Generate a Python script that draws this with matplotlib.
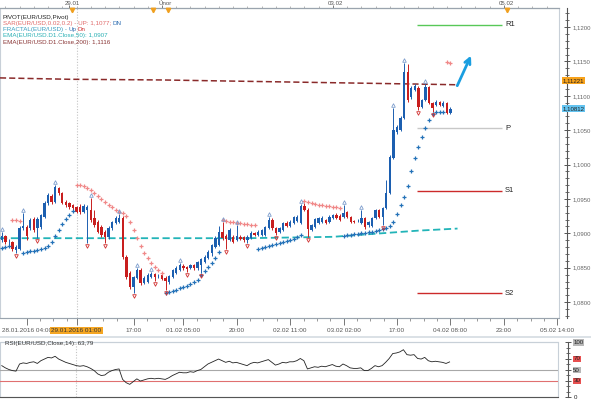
import matplotlib
matplotlib.use("Agg")
import matplotlib.pyplot as plt
from matplotlib.transforms import ScaledTranslation, blended_transform_factory
from matplotlib.ticker import FuncFormatter, FixedLocator, MultipleLocator, NullFormatter

plt.rcParams["font.family"] = ["Liberation Sans", "DejaVu Sans"]

# ---------------- data (EUR/USD H1) ----------------
opens = [1.0890,1.0896,1.0887,1.0887,1.0876,1.0877,1.0908,1.0909,1.0908,1.0921,
         1.0908,1.0909,1.0924,1.0944,1.0954,1.0946,1.0966,1.0959,1.0946,1.0944,
         1.0941,1.0938,1.0938,1.0931,1.0934,1.0934,1.0922,1.0917,1.0909,1.0902,
         1.0895,1.0908,1.0915,1.0917,1.0922,1.0866,1.0842,1.0822,1.0835,1.0847,
         1.0828,1.0829,1.0837,1.0841,1.0838,1.0839,1.0835,1.0829,1.0837,1.0842,
         1.0847,1.0853,1.0851,1.0850,1.0854,1.0850,1.0854,1.0858,1.0864,1.0871,
         1.0880,1.0883,1.0902,1.0896,1.0890,1.0895,1.0890,1.0895,1.0895,1.0890,
         1.0893,1.0901,1.0898,1.0898,1.0898,1.0908,1.0919,1.0908,1.0902,1.0905,
         1.0915,1.0911,1.0915,1.0918,1.0915,1.0940,1.0934,1.0905,1.0909,1.0915,
         1.0917,1.0919,1.0917,1.0922,1.0927,1.0925,1.0924,1.0931,1.0924,1.0918,
         1.0918,1.0915,1.0922,1.0912,1.0911,1.0922,1.0934,1.0924,1.0937,1.0959,
         1.1010,1.1047,1.1050,1.1068,1.1135,1.1098,1.1108,1.1111,1.1084,1.1094,
         1.1113,1.1089,1.1087,1.1091,1.1085,1.1089,1.1075]
highs = [1.0902,1.0898,1.0892,1.0889,1.0883,1.0911,1.0930,1.0912,1.0922,1.0924,
         1.0924,1.0928,1.0947,1.0959,1.0957,1.0970,1.0967,1.0960,1.0949,1.0946,
         1.0943,1.0940,1.0943,1.0943,1.0941,1.0951,1.0934,1.0919,1.0912,1.0905,
         1.0911,1.0918,1.0925,1.0928,1.0925,1.0869,1.0845,1.0838,1.0850,1.0850,
         1.0838,1.0842,1.0844,1.0842,1.0841,1.0842,1.0838,1.0839,1.0848,1.0853,
         1.0857,1.0855,1.0853,1.0855,1.0855,1.0860,1.0864,1.0869,1.0876,1.0885,
         1.0896,1.0911,1.0917,1.0899,1.0908,1.0898,1.0912,1.0898,1.0896,1.0898,
         1.0903,1.0902,1.0905,1.0906,1.0911,1.0924,1.0922,1.0909,1.0909,1.0917,
         1.0918,1.0919,1.0925,1.0927,1.0943,1.0944,1.0937,1.0914,1.0922,1.0924,
         1.0925,1.0921,1.0927,1.0928,1.0930,1.0928,1.0941,1.0933,1.0925,1.0919,
         1.0921,1.0934,1.0924,1.0918,1.0924,1.0935,1.0935,1.0938,1.0978,1.1014,
         1.1082,1.1058,1.1071,1.1148,1.1146,1.1114,1.1117,1.1114,1.1095,1.1117,
         1.1114,1.1091,1.1094,1.1092,1.1092,1.1091,1.1084]
lows = [1.0887,1.0885,1.0883,1.0874,1.0871,1.0876,1.0905,1.0890,1.0905,1.0902,
        1.0893,1.0906,1.0922,1.0941,1.0943,1.0944,1.0956,1.0943,1.0938,1.0935,
        1.0934,1.0930,1.0928,1.0930,1.0886,1.0917,1.0909,1.0901,1.0895,1.0886,
        1.0892,1.0905,1.0914,1.0915,1.0863,1.0834,1.0819,1.0813,1.0834,1.0825,
        1.0826,1.0828,1.0835,1.0831,1.0835,1.0832,1.0818,1.0826,1.0835,1.0841,
        1.0845,1.0847,1.0844,1.0848,1.0847,1.0847,1.0842,1.0857,1.0863,1.0867,
        1.0879,1.0882,1.0890,1.0877,1.0889,1.0886,1.0889,1.0890,1.0887,1.0886,
        1.0892,1.0896,1.0896,1.0896,1.0896,1.0906,1.0905,1.0898,1.0901,1.0903,
        1.0909,1.0909,1.0914,1.0917,1.0914,1.0933,1.0895,1.0903,1.0908,1.0914,
        1.0915,1.0914,1.0915,1.0921,1.0921,1.0918,1.0922,1.0922,1.0915,1.0915,
        1.0917,1.0914,1.0906,1.0909,1.0909,1.0921,1.0922,1.0912,1.0935,1.0957,
        1.1008,1.1044,1.1049,1.1066,1.1091,1.1095,1.1107,1.1079,1.1082,1.1092,
        1.1088,1.1076,1.1085,1.1085,1.1084,1.1074,1.1074]
closes = [1.0896,1.0887,1.0888,1.0877,1.0880,1.0908,1.0911,1.0896,1.0919,1.0905,
          1.0921,1.0927,1.0944,1.0956,1.0946,1.0967,1.0959,1.0944,1.0941,1.0938,
          1.0937,1.0931,1.0931,1.0940,1.0938,1.0919,1.0912,1.0902,1.0898,1.0895,
          1.0908,1.0917,1.0922,1.0922,1.0866,1.0837,1.0822,1.0837,1.0847,1.0828,
          1.0835,1.0839,1.0841,1.0837,1.0838,1.0834,1.0831,1.0838,1.0847,1.0850,
          1.0854,1.0850,1.0848,1.0854,1.0850,1.0858,1.0863,1.0866,1.0873,1.0883,
          1.0893,1.0902,1.0893,1.0892,1.0905,1.0887,1.0896,1.0892,1.0890,1.0895,
          1.0901,1.0898,1.0902,1.0905,1.0909,1.0919,1.0908,1.0901,1.0908,1.0915,
          1.0911,1.0917,1.0924,1.0924,1.0940,1.0934,1.0906,1.0912,1.0921,1.0922,
          1.0922,1.0915,1.0924,1.0927,1.0922,1.0919,1.0930,1.0924,1.0917,1.0917,
          1.0918,1.0922,1.0909,1.0917,1.0922,1.0934,1.0924,1.0937,1.0959,1.1011,
          1.1050,1.1055,1.1068,1.1135,1.1094,1.1111,1.1114,1.1084,1.1094,1.1113,
          1.1089,1.1082,1.1091,1.1087,1.1089,1.1075,1.1081]

sar_values = [1.0879,1.0880,1.0882,1.0919,1.0919,1.0918,1.0871,1.0873,1.0874,1.0874,
              1.0876,1.0877,1.0879,1.0882,1.0887,1.0896,1.0905,1.0914,1.0921,1.0927,
              1.0933,1.0970,1.0970,1.0969,1.0966,1.0963,1.0959,1.0954,1.0950,1.0946,
              1.0941,1.0938,1.0934,1.0931,1.0930,1.0925,1.0917,1.0905,1.0893,1.0882,
              1.0871,1.0864,1.0857,1.0851,1.0847,1.0842,1.0813,1.0815,1.0816,1.0818,
              1.0821,1.0822,1.0823,1.0826,1.0829,1.0832,1.0839,1.0845,1.0851,1.0857,
              1.0864,1.0873,1.0920,1.0918,1.0917,1.0917,1.0915,1.0915,1.0914,1.0914,
              1.0912,1.0912,1.0877,1.0879,1.0880,1.0882,1.0883,1.0885,1.0886,1.0887,
              1.0889,1.0890,1.0892,1.0895,1.0898,1.0947,1.0946,1.0944,1.0943,1.0941,
              1.0941,1.0940,1.0940,1.0938,1.0938,1.0937,1.0896,1.0898,1.0898,1.0899,
              1.0899,1.0901,1.0901,1.0902,1.0902,1.0903,1.0905,1.0906,1.0908,1.0911,
              1.0917,1.0928,1.0941,1.0953,1.0969,1.0991,1.1010,1.1026,1.1040,1.1053,
              1.1065,1.1074,1.1076,1.1076,1.1076,1.1149,1.1148]
# 1 = SAR below price (up trend), 0 = SAR above price (down trend)
sar_up = ([1]*3 + [0]*3 + [1]*15 + [0]*25 + [1]*16 + [0]*10 +
          [1]*13 + [0]*11 + [1]*29 + [0]*2)

fractal_up = [0, 6, 15, 25, 33, 38, 42, 50, 62, 66, 75, 84, 96, 101, 110, 113, 119]
fractal_dn = [4, 10, 24, 29, 37, 43, 46, 52, 56, 63, 69, 77, 86, 107, 117, 121]

# daily EMA values (at day starts)
ema_day_idx = [-0.5, 19, 45, 69, 93, 117, 128]
ema50 = [1.0893, 1.0893, 1.0893, 1.0893, 1.0895, 1.0904, 1.0907]
ema200 = [1.1126, 1.1124, 1.1123, 1.1121, 1.1119, 1.1117, 1.1116]

pivot_names = ["R1", "P", "S1", "S2"]
pivot_values = [1.1203, 1.1053, 1.0962, 1.0813]
pivot_colors = ["#58c858", "#c8c8c8", "#cc2a2a", "#cc2a2a"]

rsi = [57,53,50,48,47,60,62,61,63,64,
       61,66,69,72,71,74,69,66,63,61,
       59,57,56,57,55,52,48,42,39,40,
       45,48,50,51,32,26,23,28,33,29,
       31,33,34,33,34,33,32,35,39,42,
       45,44,44,46,45,48,50,55,60,63,
       66,69,66,63,65,62,63,61,59,57,
       61,63,62,64,66,68,63,58,60,63,
       62,64,64,66,70,66,51,53,55,54,
       56,55,57,59,56,55,60,57,53,52,
       52,53,48,48,52,57,55,57,63,70,
       79,80,82,86,77,76,77,70,69,72,
       66,64,65,64,63,61,63.79]

bottom_ticks = [7, 21, 37, 51, 66, 81, 96, 111, 126, 141, 156]
bottom_labels = ["28.01.2016 04:00", "29.01.2016 01:00", "17:00", "01.02 05:00",
                 "20:00", "02.02 11:00", "03.02 02:00", "17:00", "04.02 08:00",
                 "23:00", "05.02 14:00"]
top_ticks = [19, 45, 93, 141]
top_labels = ["29.01", "Únor", "03.02", "05.02"]
event_marks = [19.7, 42.5, 46.7, 142]
crosshair_x = 21

# ---------------- figure ----------------
W, H = 591, 399
fig = plt.figure(figsize=(W / 100, H / 100), dpi=100)
fig.patch.set_facecolor("white")

def fy(py):
    return 1 - py / H

ax = fig.add_axes([0, fy(318), 559 / W, (318 - 8) / H])
rs = fig.add_axes([0, fy(397), 558 / W, (397 - 342) / H])

BLUE = "#1c5fb0"
RED = "#c81e1e"
n = len(opens)
xs = list(range(n))

ax.set_xlim(-0.5, 156.5)
ax.set_ylim(1.07770, 1.12276)

# candles
cols = [BLUE if c >= o else RED for o, c in zip(opens, closes)]
ax.vlines(xs, lows, highs, colors=cols, lw=0.7, zorder=3)
bottoms = [min(o, c) for o, c in zip(opens, closes)]
heights = [max(abs(c - o), 0.00005) for o, c in zip(opens, closes)]
ax.bar(xs, heights, bottom=bottoms, width=0.66, color=cols, linewidth=0, zorder=4)

# EMA lines
ax.plot(ema_day_idx, ema50, color="#22b4b8", lw=1.3, dashes=(4, 2), zorder=2)
ax.plot(ema_day_idx, ema200, color="#8a2a2a", lw=1.1, dashes=(4, 2), zorder=2)

# parabolic SAR
bx = [i for i in xs if sar_up[i] == 1]
px_ = [i for i in xs if sar_up[i] == 0]
ax.plot(bx, [sar_values[i] for i in bx], ls="none", marker="+", ms=2.6, mew=0.9,
        color="#2472b8", zorder=5)
ax.plot(px_, [sar_values[i] for i in px_], ls="none", marker="+", ms=2.6, mew=0.9,
        color="#f08888", zorder=5)

# fractals
up_tr = ax.transData + ScaledTranslation(0, 0.03, fig.dpi_scale_trans)
dn_tr = ax.transData + ScaledTranslation(0, -0.03, fig.dpi_scale_trans)
ax.plot(fractal_up, [highs[i] for i in fractal_up], ls="none", marker="^",
        ms=2.6, mew=0.6, mfc="none", mec="#7d9dcc", transform=up_tr, zorder=6)
ax.plot(fractal_dn, [lows[i] for i in fractal_dn], ls="none", marker="v",
        ms=2.6, mew=0.6, mfc="none", mec="#d03030", transform=dn_tr, zorder=6)

# pivots
for name, val, c in zip(pivot_names, pivot_values, pivot_colors):
    ax.hlines(val, 116.5, 140.5, color=c, lw=1.0, zorder=2)
    ax.text(141.3, val, name, fontsize=5.5, color="#222", ha="left", va="center")

# crosshair
ax.axvline(crosshair_x, color="#c4c4c4", lw=0.8, ls=(0, (1, 1.5)), zorder=1)
rs.axvline(crosshair_x, color="#c4c4c4", lw=0.8, ls=(0, (1, 1.5)), zorder=1)

# blue arrow
ax.annotate("", xy=(132.1, 1.1162), xytext=(127.6, 1.1111),
            arrowprops=dict(arrowstyle="->", color="#1a9ee0", lw=2.0,
                            mutation_scale=10), zorder=7)

# axes styling
ax.spines["left"].set_visible(False)
ax.spines["top"].set_color("#9aa4ae")
ax.spines["bottom"].set_color("#9aa4ae")
ax.spines["right"].set_color("#555555")
ax.spines["right"].set_position(("outward", 6))
ax.patch.set_edgecolor("#c8d0d8")
ax.patch.set_linewidth(0.8)

ax.yaxis.tick_right()
ax.set_yticks([1.08, 1.085, 1.09, 1.095, 1.10, 1.105, 1.11, 1.115, 1.12])
ax.yaxis.set_major_formatter(FuncFormatter(lambda v, p: f"{v:.4f}".replace(".", ",")))
ax.yaxis.set_minor_locator(MultipleLocator(0.001))
ax.tick_params(axis="y", which="major", direction="inout", length=5, labelsize=4.3,
               labelcolor="#666", pad=1.0, color="#555", width=0.7)
ax.tick_params(axis="y", which="minor", direction="inout", length=3, color="#555",
               width=0.6)

ax.set_xticks(bottom_ticks)
ax.set_xticklabels(bottom_labels)
minor_b = [t + 3.75 * j for t in bottom_ticks for j in (1, 2, 3) if t + 3.75 * j < 156.5]
ax.xaxis.set_minor_locator(FixedLocator(minor_b))
ax.tick_params(axis="x", which="major", direction="out", length=5, labelsize=4.6,
               labelcolor="#555", pad=2, color="#777", width=0.7)
ax.tick_params(axis="x", which="minor", direction="out", length=2.5, color="#888",
               width=0.6)
tl = ax.get_xticklabels()[1]
tl.set_bbox(dict(facecolor="#f5a623", edgecolor="none", pad=0.8))
tl.set_color("#333")

# top time axis (ticks via secondary axis, labels as text inside the strip)
top = ax.secondary_xaxis("top")
top.set_xticks(top_ticks)
top.xaxis.set_major_formatter(NullFormatter())
top.xaxis.set_minor_locator(FixedLocator([i for i in range(1, 157, 4)]))
top.tick_params(axis="x", which="major", length=2, color="#777", width=0.7)
top.tick_params(axis="x", which="minor", length=1.5, color="#999", width=0.5)
top.spines["top"].set_color("#9aa4ae")
ttr = blended_transform_factory(ax.transData, fig.transFigure)
for tx, lab in zip(top_ticks, top_labels):
    ax.text(tx + 0.8, fy(3.6), lab, transform=ttr, fontsize=4.4, color="#555",
            ha="center", va="center", clip_on=False)

# orange event markers on top axis
btr = blended_transform_factory(ax.transData, ax.transAxes)
ax.plot(event_marks, [0.993] * len(event_marks), ls="none", marker="v", ms=3.2,
        color="#f0a020", transform=btr, clip_on=False, zorder=8)

# right price boxes
ftr = blended_transform_factory(fig.transFigure, ax.transData)
ax.text(562.5 / W, 1.11221, "1,11221", transform=ftr, fontsize=4.4, color="#222",
        va="center", ha="left", bbox=dict(facecolor="#f7a21b", edgecolor="none", pad=0.6),
        zorder=9, clip_on=False)
ax.text(562.5 / W, closes[-1] + 0.00002, "1,10812", transform=ftr, fontsize=4.4,
        color="#222", va="center", ha="left",
        bbox=dict(facecolor="#63c3f0", edgecolor="none", pad=0.6), zorder=9, clip_on=False)

# legend texts (pieces placed one after another)
fs = 4.5
renderer = fig.canvas.get_renderer()

def seq_text(x_px, y_px, parts):
    x = x_px
    for s, c in parts:
        t = fig.text(x / W, fy(y_px), s, fontsize=fs, color=c, va="center")
        bb = t.get_window_extent(renderer)
        x = bb.x1 + 1.5

seq_text(3, 17, [("PIVOT(EUR/USD,Pivot)", "#222")])
seq_text(3, 23.5, [("SAR(EUR/USD,0.02,0.2) - UP: 1,1077;", "#e06a6a"), ("DN", "#2a6ab0")])
seq_text(3, 29.5, [("FRACTAL(EUR/USD) -", "#3a9ec0"), ("Up", "#2a6ab0"), ("Dn", "#d03030")])
seq_text(3, 36, [("EMA(EUR/USD.D1.Close,50): 1,0907", "#2ab0b4")])
seq_text(3, 42.5, [("EMA(EUR/USD.D1.Close,200): 1,1116", "#8a3636")])

# separator
fig.add_artist(plt.Line2D([0, 1], [fy(337), fy(337)], color="#d4dbe2", lw=1.2))

# ---------------- RSI panel ----------------
rs.set_xlim(-0.5, 156.5)
rs.set_ylim(0, 100)
rs.plot(xs, rsi, color="#222", lw=0.6, zorder=3)
rs.axhline(50, color="#a8a8a8", lw=0.8, zorder=2)
rs.axhline(30, color="#e07070", lw=0.8, zorder=2)
rs.set_xticks([])
rs.spines["left"].set_visible(False)
rs.spines["top"].set_color("#c8d0d8")
rs.spines["bottom"].set_color("#555")
rs.spines["right"].set_color("#555")
rs.spines["right"].set_position(("outward", 7))
rs.patch.set_edgecolor("#c8d0d8")
rs.patch.set_linewidth(0.8)
rs.yaxis.tick_right()
rs.set_yticks([0, 30, 50, 70, 100])
rs.set_yticklabels(["0", "30", "50", "70", "100"])
rs.yaxis.set_minor_locator(MultipleLocator(10))
rs.tick_params(axis="y", which="major", direction="inout", length=4, labelsize=4.4,
               labelcolor="#222", pad=2, color="#555", width=0.7)
rs.tick_params(axis="y", which="minor", direction="inout", length=2.5, color="#555",
               width=0.6)
box_cols = [None, "#e85050", "#b8b8b8", "#e85050", "#b8b8b8"]
for lab, bc in zip(rs.get_yticklabels(), box_cols):
    if bc:
        lab.set_bbox(dict(facecolor=bc, edgecolor="none", pad=0.5))
fig.text(5 / W, fy(344), "RSI(EUR/USD,Close,14): 63,79", fontsize=fs, color="#333",
         va="center")

fig.savefig("out.png", dpi=100, facecolor="white")
